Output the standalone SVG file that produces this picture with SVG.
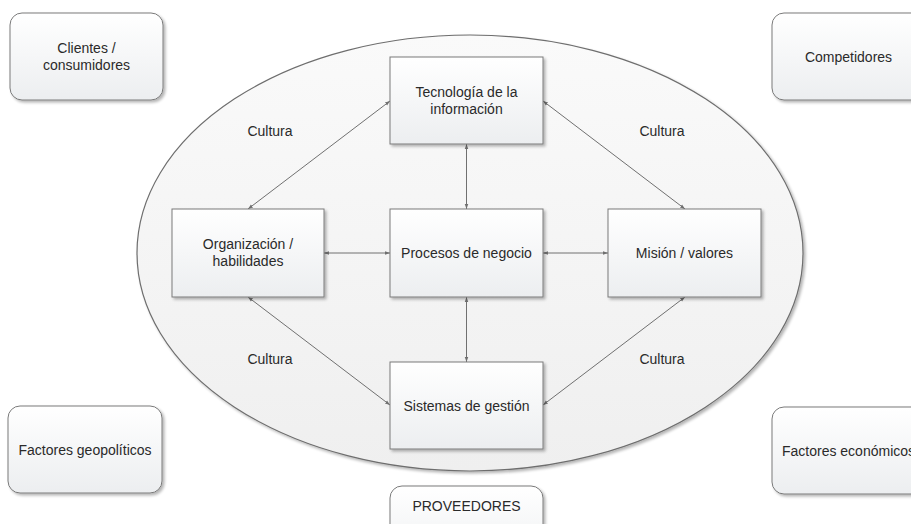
<svg xmlns="http://www.w3.org/2000/svg" width="911" height="524" viewBox="0 0 911 524">
  <defs>
    <linearGradient id="boxFill" x1="0" y1="0" x2="0" y2="1">
      <stop offset="0" stop-color="#ffffff"/>
      <stop offset="1" stop-color="#eceef0"/>
    </linearGradient>
    <linearGradient id="ovalFill" x1="0" y1="0" x2="0" y2="1">
      <stop offset="0" stop-color="#fafafa"/>
      <stop offset="1" stop-color="#efefef"/>
    </linearGradient>
    <filter id="shadow" x="-10%" y="-10%" width="130%" height="130%">
      <feGaussianBlur in="SourceAlpha" stdDeviation="1.5"/>
      <feOffset dx="2" dy="2" result="b"/>
      <feComponentTransfer><feFuncA type="linear" slope="0.3"/></feComponentTransfer>
      <feMerge><feMergeNode/><feMergeNode in="SourceGraphic"/></feMerge>
    </filter>
    <marker id="arr" viewBox="0 0 10 10" refX="10" refY="5" markerWidth="5" markerHeight="5" markerUnits="userSpaceOnUse" orient="auto-start-reverse">
      <path d="M0,1.5 L10,5 L0,8.5 Z" fill="#6f6f6f"/>
    </marker>
  </defs>
  <style>
    .box { fill: url(#boxFill); stroke: #7a7a7a; stroke-width: 1; filter: url(#shadow); }
    .oval { fill: url(#ovalFill); stroke: #6e6e6e; stroke-width: 1.2; filter: url(#shadow); }
    .lbl { font-family: "Liberation Sans", Arial, sans-serif; font-size: 14px; fill: #2a2a2a; text-anchor: middle; dominant-baseline: central; }
    .edge { stroke: #707070; stroke-width: 1; fill: none; marker-start: url(#arr); marker-end: url(#arr); }
  </style>

  <rect width="911" height="524" fill="#ffffff"/>

  <!-- outer environment boxes -->
  <g id="clientes">
    <rect class="box" x="10" y="13" width="153" height="87" rx="12"/>
    <text class="lbl" x="86.5" y="48">Clientes /</text>
    <text class="lbl" x="86.5" y="65">consumidores</text>
  </g>
  <g id="competidores">
    <rect class="box" x="772" y="13" width="153" height="87" rx="12"/>
    <text class="lbl" x="848.5" y="56.5">Competidores</text>
  </g>
  <g id="geopoliticos">
    <rect class="box" x="8" y="406" width="154" height="87" rx="12"/>
    <text class="lbl" x="85" y="449.5">Factores geopolíticos</text>
  </g>
  <g id="economicos">
    <rect class="box" x="772" y="407" width="153" height="87" rx="12"/>
    <text class="lbl" x="848.5" y="450.5">Factores económicos</text>
  </g>
  <g id="proveedores">
    <rect class="box" x="390" y="486" width="153" height="87" rx="12"/>
    <text class="lbl" x="466.5" y="506">PROVEEDORES</text>
  </g>

  <!-- organisation boundary -->
  <g id="organizacion-limite">
    <ellipse class="oval" cx="470" cy="253" rx="333" ry="218"/>
  </g>

  <!-- connectors -->
  <g id="connectors">
    <line class="edge" x1="466.5" y1="144" x2="466.5" y2="209"/>
    <line class="edge" x1="466.5" y1="297" x2="466.5" y2="362"/>
    <line class="edge" x1="324" y1="253" x2="390" y2="253"/>
    <line class="edge" x1="543" y1="253" x2="608" y2="253"/>
    <line class="edge" x1="248" y1="209" x2="390" y2="101"/>
    <line class="edge" x1="543" y1="101" x2="685" y2="209"/>
    <line class="edge" x1="248" y1="297" x2="390" y2="405"/>
    <line class="edge" x1="685" y1="297" x2="543" y2="405"/>
    <text class="lbl" x="270" y="131">Cultura</text>
    <text class="lbl" x="662" y="131">Cultura</text>
    <text class="lbl" x="270" y="359">Cultura</text>
    <text class="lbl" x="662" y="359">Cultura</text>
  </g>

  <!-- inner nodes -->
  <g id="tecnologia">
    <rect class="box" x="390" y="57" width="153" height="87"/>
    <text class="lbl" x="466.5" y="92">Tecnología de la</text>
    <text class="lbl" x="466.5" y="109">información</text>
  </g>
  <g id="organizacion">
    <rect class="box" x="172" y="209" width="152" height="88"/>
    <text class="lbl" x="248" y="244">Organización /</text>
    <text class="lbl" x="248" y="261">habilidades</text>
  </g>
  <g id="procesos">
    <rect class="box" x="390" y="209" width="153" height="88"/>
    <text class="lbl" x="466.5" y="253">Procesos de negocio</text>
  </g>
  <g id="mision">
    <rect class="box" x="608" y="209" width="153" height="88"/>
    <text class="lbl" x="684.5" y="253">Misión / valores</text>
  </g>
  <g id="sistemas">
    <rect class="box" x="390" y="362" width="153" height="87"/>
    <text class="lbl" x="466.5" y="405.5">Sistemas de gestión</text>
  </g>
</svg>
